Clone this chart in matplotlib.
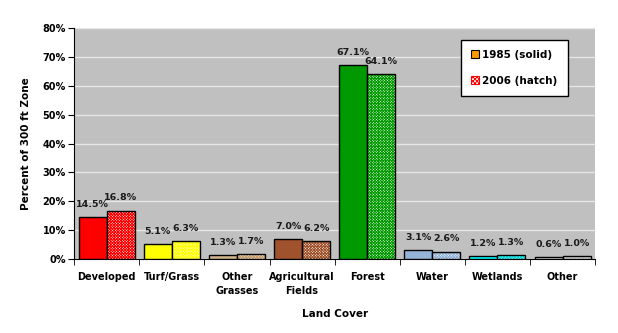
import matplotlib.pyplot as plt
from matplotlib.patches import Patch
import numpy as np

# data
categories = ["Developed", "Turf/Grass", "Other\nGrasses", "Agricultural\nFields",
              "Forest", "Water", "Wetlands", "Other"]
pct_1985 = [14.5, 5.1, 1.3, 7.0, 67.1, 3.1, 1.2, 0.6]
pct_2006 = [16.8, 6.3, 1.7, 6.2, 64.1, 2.6, 1.3, 1.0]
colors = ["#FF0000", "#FFFF00", "#D2B48C", "#A0522D",
          "#009900", "#95B3D7", "#00FFFF", "#F4F4F4"]
hatch_colors = ["#FF0000", "#FFFF00", "#C8A070", "#A0522D",
                "#009900", "#95B3D7", "#00E0E0", "#C8C8C8"]

plt.rcParams['font.family'] = 'DejaVu Sans'
plt.rcParams['font.weight'] = 'bold'
plt.rcParams['hatch.linewidth'] = 0.7

fig = plt.figure(figsize=(6.18, 3.33), dpi=100)
ax = fig.add_axes([0.12, 0.222, 0.843, 0.694])
ax.set_facecolor("#C0C0C0")

x = np.arange(len(categories))
w = 0.43

# 1985 solid
ax.bar(x - w/2, pct_1985, width=w, color=colors, edgecolor="black", linewidth=1, zorder=3)
# 2006 hatched: hatch layer then outline
for xi, v, hc in zip(x, pct_2006, hatch_colors):
    ax.bar(xi + w/2, v, width=w, facecolor="white", edgecolor=hc, hatch="x" * 12,
           linewidth=0, zorder=3)
    ax.bar(xi + w/2, v, width=w, fill=False, edgecolor="black", linewidth=1, zorder=4)

# value labels
for xi, a, b in zip(x, pct_1985, pct_2006):
    ax.text(xi - w/2, a + 2.8, f"{a:.1f}%", ha="center", va="bottom",
            fontsize=6.8, fontweight="bold", color="#1a1a1a", zorder=5)
    ax.text(xi + w/2, b + 2.8, f"{b:.1f}%", ha="center", va="bottom",
            fontsize=6.8, fontweight="bold", color="#1a1a1a", zorder=5)

ax.set_ylim(0, 80)
ax.set_xlim(-0.5, len(categories) - 0.5)
ax.set_yticks(np.arange(0, 81, 10))
ax.set_yticklabels([f"{t}%" for t in range(0, 81, 10)], fontsize=7, fontweight="bold")
ax.yaxis.grid(True, color="#E6E6E6", linewidth=1)
ax.set_axisbelow(True)

ax.set_xticks(x)
ax.set_xticklabels(categories, fontsize=7, fontweight="bold", linespacing=1.6)
ax.tick_params(axis="x", which="major", length=0, pad=9)
ax.set_xticks(np.arange(-0.5, len(categories)), minor=True)
ax.tick_params(axis="x", which="minor", length=4, direction="out", color="black")
ax.tick_params(axis="y", length=4, direction="out", pad=2)

for s in ["top", "right"]:
    ax.spines[s].set_visible(False)
ax.spines["left"].set_color("black")
ax.spines["bottom"].set_color("black")

ax.set_ylabel("Percent of 300 ft Zone", fontsize=7.5, fontweight="bold", labelpad=8)
ax.set_xlabel("Land Cover", fontsize=7.5, fontweight="bold", labelpad=9)

handles = [Patch(facecolor="#FF9900", edgecolor="black", linewidth=0.8, label="1985 (solid)"),
           Patch(facecolor="white", edgecolor="#FF0000", hatch="x" * 8, linewidth=0.8,
                 label="2006 (hatch)")]
leg = ax.legend(handles=handles, loc="upper right", bbox_to_anchor=(0.948, 0.95),
                fontsize=7.5, frameon=True, fancybox=False, edgecolor="black",
                facecolor="white", framealpha=1,
                handlelength=0.8, handleheight=0.8, handletextpad=0.3,
                labelspacing=1.5, borderpad=1.0, borderaxespad=0)
leg.get_frame().set_linewidth(1)
for t in leg.get_texts():
    t.set_fontweight("bold")

fig.savefig("out.png", dpi=100)
